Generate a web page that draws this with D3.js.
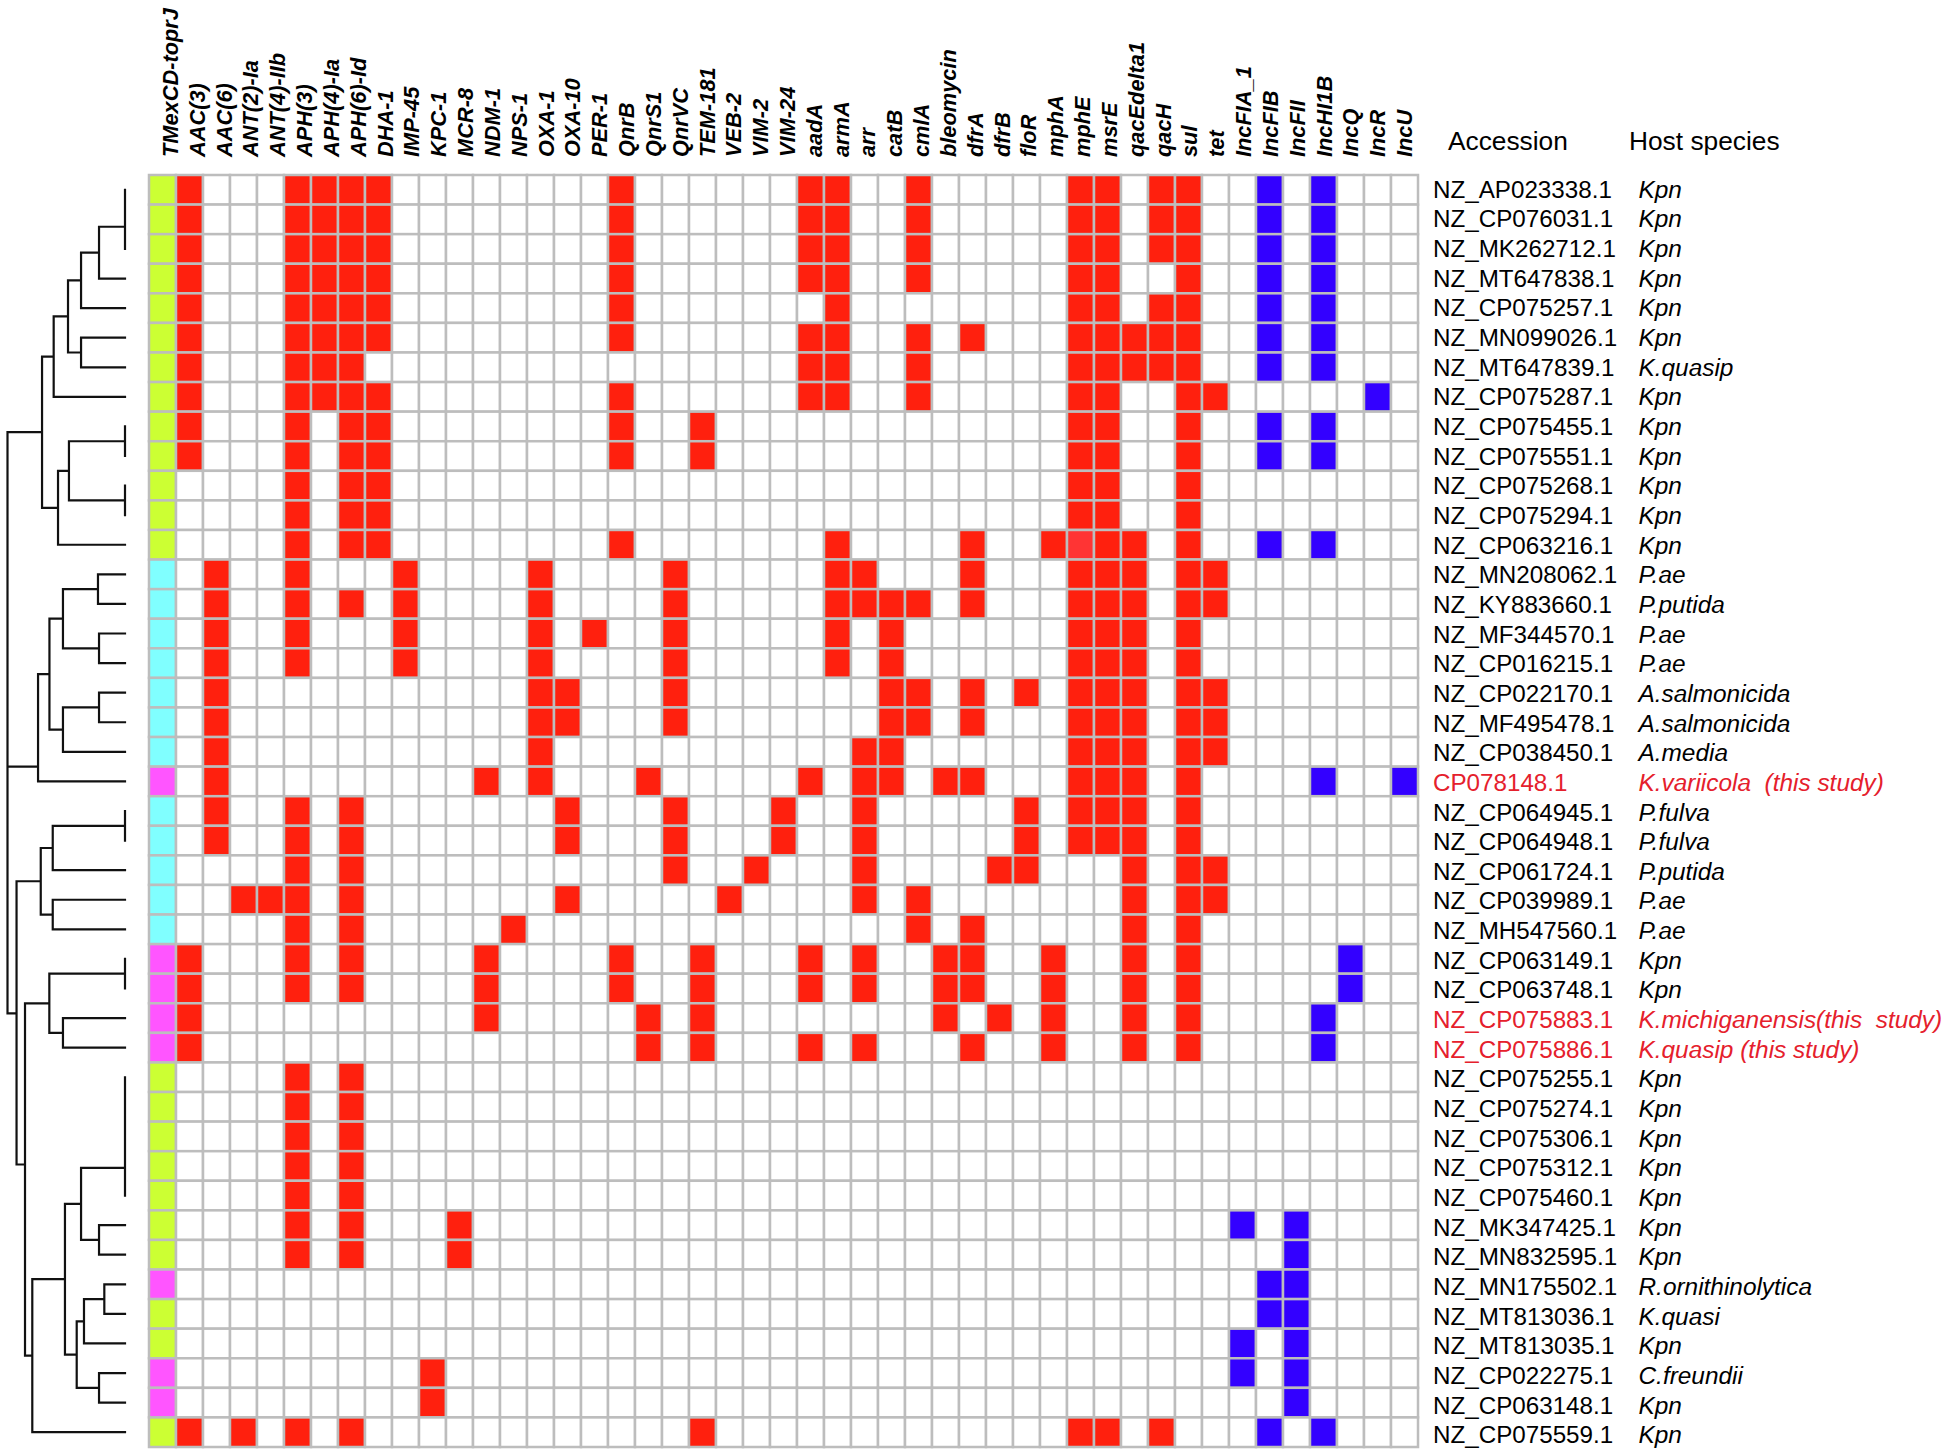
<!DOCTYPE html>
<html>
<head>
<meta charset="utf-8">
<script src="https://cdn.jsdelivr.net/npm/d3@7"></script>
<style>
  body { margin: 0; background: #fff; }
  text { font-family: "Liberation Sans", Arial, sans-serif; white-space: pre; }
</style>
</head>
<body>
<svg id="chart" width="1949" height="1454"></svg>
<script>
const genes = ["TMexCD-toprJ", "AAC(3)", "AAC(6)", "ANT(2)-Ia", "ANT(4)-IIb", "APH(3)", "APH(4)-Ia", "APH(6)-Id", "DHA-1", "IMP-45",
  "KPC-1", "MCR-8", "NDM-1", "NPS-1", "OXA-1", "OXA-10", "PER-1", "QnrB", "QnrS1", "QnrVC",
  "TEM-181", "VEB-2", "VIM-2", "VIM-24", "aadA", "armA", "arr", "catB", "cmlA", "bleomycin",
  "dfrA", "dfrB", "floR", "mphA", "mphE", "msrE", "qacEdelta1", "qacH", "sul", "tet",
  "IncFIA_1", "IncFIB", "IncFII", "IncHI1B", "IncQ", "IncR", "IncU"];

const accessions = ["NZ_AP023338.1", "NZ_CP076031.1", "NZ_MK262712.1", "NZ_MT647838.1", "NZ_CP075257.1", "NZ_MN099026.1", "NZ_MT647839.1",
  "NZ_CP075287.1", "NZ_CP075455.1", "NZ_CP075551.1", "NZ_CP075268.1", "NZ_CP075294.1", "NZ_CP063216.1", "NZ_MN208062.1",
  "NZ_KY883660.1", "NZ_MF344570.1", "NZ_CP016215.1", "NZ_CP022170.1", "NZ_MF495478.1", "NZ_CP038450.1", "CP078148.1",
  "NZ_CP064945.1", "NZ_CP064948.1", "NZ_CP061724.1", "NZ_CP039989.1", "NZ_MH547560.1", "NZ_CP063149.1", "NZ_CP063748.1",
  "NZ_CP075883.1", "NZ_CP075886.1", "NZ_CP075255.1", "NZ_CP075274.1", "NZ_CP075306.1", "NZ_CP075312.1", "NZ_CP075460.1",
  "NZ_MK347425.1", "NZ_MN832595.1", "NZ_MN175502.1", "NZ_MT813036.1", "NZ_MT813035.1", "NZ_CP022275.1", "NZ_CP063148.1", "NZ_CP075559.1"];

const hosts = ["Kpn", "Kpn", "Kpn", "Kpn", "Kpn", "Kpn", "K.quasip",
  "Kpn", "Kpn", "Kpn", "Kpn", "Kpn", "Kpn", "P.ae",
  "P.putida", "P.ae", "P.ae", "A.salmonicida", "A.salmonicida", "A.media", "K.variicola  (this study)",
  "P.fulva", "P.fulva", "P.putida", "P.ae", "P.ae", "Kpn", "Kpn",
  "K.michiganensis(this  study)", "K.quasip (this study)", "Kpn", "Kpn", "Kpn", "Kpn", "Kpn",
  "Kpn", "Kpn", "R.ornithinolytica", "K.quasi", "Kpn", "C.freundii", "Kpn", "Kpn"];

// first column, one letter per row: g = green, c = cyan, m = magenta
const firstColumn = "gggggggggggggcccccccmcccccmmmmgggggggmggmmg";

const thisStudy = ["CP078148.1", "NZ_CP075883.1", "NZ_CP075886.1"];

// gene index (into genes) of every filled cell, one list per row
const present = [
  [1, 5, 6, 7, 8, 17, 24, 25, 28, 34, 35, 37, 38, 41, 43],
  [1, 5, 6, 7, 8, 17, 24, 25, 28, 34, 35, 37, 38, 41, 43],
  [1, 5, 6, 7, 8, 17, 24, 25, 28, 34, 35, 37, 38, 41, 43],
  [1, 5, 6, 7, 8, 17, 24, 25, 28, 34, 35, 38, 41, 43],
  [1, 5, 6, 7, 8, 17, 25, 34, 35, 37, 38, 41, 43],
  [1, 5, 6, 7, 8, 17, 24, 25, 28, 30, 34, 35, 36, 37, 38, 41, 43],
  [1, 5, 6, 7, 24, 25, 28, 34, 35, 36, 37, 38, 41, 43],
  [1, 5, 6, 7, 8, 17, 24, 25, 28, 34, 35, 38, 39, 45],
  [1, 5, 7, 8, 17, 20, 34, 35, 38, 41, 43],
  [1, 5, 7, 8, 17, 20, 34, 35, 38, 41, 43],
  [5, 7, 8, 34, 35, 38],
  [5, 7, 8, 34, 35, 38],
  [5, 7, 8, 17, 25, 30, 33, 34, 35, 36, 38, 41, 43],
  [2, 5, 9, 14, 19, 25, 26, 30, 34, 35, 36, 38, 39],
  [2, 5, 7, 9, 14, 19, 25, 26, 27, 28, 30, 34, 35, 36, 38, 39],
  [2, 5, 9, 14, 16, 19, 25, 27, 34, 35, 36, 38],
  [2, 5, 9, 14, 19, 25, 27, 34, 35, 36, 38],
  [2, 14, 15, 19, 27, 28, 30, 32, 34, 35, 36, 38, 39],
  [2, 14, 15, 19, 27, 28, 30, 34, 35, 36, 38, 39],
  [2, 14, 26, 27, 34, 35, 36, 38, 39],
  [2, 12, 14, 18, 24, 26, 27, 29, 30, 34, 35, 36, 38, 43, 46],
  [2, 5, 7, 15, 19, 23, 26, 32, 34, 35, 36, 38],
  [2, 5, 7, 15, 19, 23, 26, 32, 34, 35, 36, 38],
  [5, 7, 19, 22, 26, 31, 32, 36, 38, 39],
  [3, 4, 5, 7, 15, 21, 26, 28, 36, 38, 39],
  [5, 7, 13, 28, 30, 36, 38],
  [1, 5, 7, 12, 17, 20, 24, 26, 29, 30, 33, 36, 38, 44],
  [1, 5, 7, 12, 17, 20, 24, 26, 29, 30, 33, 36, 38, 44],
  [1, 12, 18, 20, 29, 31, 33, 36, 38, 43],
  [1, 18, 20, 24, 26, 30, 33, 36, 38, 43],
  [5, 7],
  [5, 7],
  [5, 7],
  [5, 7],
  [5, 7],
  [5, 7, 11, 40, 42],
  [5, 7, 11, 42],
  [41, 42],
  [41, 42],
  [40, 42],
  [10, 40, 42],
  [10, 42],
  [1, 3, 5, 7, 20, 34, 35, 37, 41, 43]
];

// dendrogram: n(height, ...children), a plain number is a row index, tips sit at height 100
// "at" is the row position where a branch joins its parent, when it is not halfway between its children
const n = (h, ...kids) => ({ h, kids });
const tree = n(0,
  n(29.4,
    n(39.3,
      n(51.5,
        n(62.6, n(77.9, n(100, n(100, 0, 1), 2), 3), 4),
        n(62.6, 5, 6)),
      7),
    n(43, n(52.3, n(100, 8, 9), n(100, 10, 11)), 12)),
  Object.assign(n(26,
    n(35.7,
      n(47.2, n(77, 13, 14), n(77.9, 15, 16)),
      n(47.2, n(77.9, 17, 18), 19)),
    20), { at: 20 }),
  Object.assign(n(7.7,
    n(28.3,
      n(38.5, n(100, 21, 22), 23),
      n(38.5, 24, 25)),
    Object.assign(n(14.9,
      n(35.6, n(100, 26, 27), n(47.2, 28, 29)),
      n(21.1,
        n(48.9,
          n(62.6, n(100, n(100, n(100, n(100, 30, 31), 32), 33), 34), n(77.9, 35, 36)),
          n(58.9, n(65.1, n(82.4, 37, 38), 39), n(77.9, 40, 41))),
        42)), { at: 33.45 })), { at: 28.34 })
);

const colors = { g: "#ccff33", c: "#80ffff", m: "#ff55ff", red: "#ff200e", pale: "#ff3434", blue: "#3300ff", line: "#bdbdbd", study: "#e5202c" };

const svg = d3.select("#chart");

const x = d3.scaleBand().domain(genes).range([149, 1418]);
const y = d3.scaleBand().domain(accessions).range([175, 1447]);
const labelX = d3.scalePoint().domain(genes).range([178, 1412]);
const labelY = d3.scaleBand().domain(accessions).range([175, 1450]);
const rowPos = d3.scaleLinear().domain([0, accessions.length]).range([175, 1447]);
const treeX = d3.scaleLinear().domain([0, 100]).range([7.5, 125]);

// heat map
const cellColor = (row, col) => {
  if (col === 0) return colors[firstColumn[row]];
  if (!present[row].includes(col)) return "#fff";
  if (row === 12 && col === 34) return colors.pale; // this one cell is lighter in the figure
  return genes[col].startsWith("Inc") ? colors.blue : colors.red;
};

svg.append("g").selectAll("g")
  .data(accessions)
  .join("g")
  .selectAll("rect")
  .data((acc, row) => genes.map((g, col) => ({ acc, g, row, col })))
  .join("rect")
  .attr("x", d => x(d.g))
  .attr("y", d => y(d.acc))
  .attr("width", x.bandwidth())
  .attr("height", y.bandwidth())
  .attr("fill", d => cellColor(d.row, d.col))
  .attr("stroke", colors.line)
  .attr("stroke-width", 2.5);

// gene names on top
svg.append("g").selectAll("text")
  .data(genes)
  .join("text")
  .attr("transform", d => `translate(${labelX(d)},157) rotate(-90)`)
  .attr("font-size", 21.8)
  .attr("font-style", "italic")
  .attr("font-weight", "bold")
  .text(d => d);

// column headers
svg.append("text").attr("x", 1448).attr("y", 150).attr("font-size", 26.3).text("Accession");
svg.append("text").attr("x", 1629).attr("y", 150).attr("font-size", 26.3).text("Host species");

// row labels
const rowColor = d => thisStudy.includes(d) ? colors.study : "#000";

svg.append("g").selectAll("text")
  .data(accessions)
  .join("text")
  .attr("x", 1433)
  .attr("y", d => labelY(d) + labelY.bandwidth() / 2 + 8)
  .attr("font-size", 24.2)
  .attr("fill", rowColor)
  .text(d => d);

svg.append("g").selectAll("text")
  .data(accessions)
  .join("text")
  .attr("x", 1638.5)
  .attr("y", d => labelY(d) + labelY.bandwidth() / 2 + 8)
  .attr("font-size", 24.4)
  .attr("font-style", "italic")
  .attr("fill", rowColor)
  .text((d, i) => hosts[i]);

// dendrogram
const root = d3.hierarchy(tree, d => d.kids ? d.kids : null);
root.eachAfter(node => {
  if (!node.children) node.rowY = rowPos(node.data + 0.5);
  else if (node.data.at !== undefined) node.rowY = rowPos(node.data.at);
  else node.rowY = d3.mean([node.children[0].rowY, node.children[node.children.length - 1].rowY]);
});

const tipHeight = d => d.children ? d.data.h : 100;
const branches = d3.path();
root.descendants().filter(d => d.children).forEach(node => {
  const px = treeX(node.data.h);
  const ys = node.children.map(c => c.rowY);
  branches.moveTo(px, d3.min(ys));
  branches.lineTo(px, d3.max(ys));
  node.children.forEach(c => {
    branches.moveTo(px, c.rowY);
    branches.lineTo(treeX(tipHeight(c)), c.rowY);
  });
});

svg.append("path")
  .attr("d", branches.toString())
  .attr("fill", "none")
  .attr("stroke", "#111")
  .attr("stroke-width", 2.2)
  .attr("stroke-linecap", "square");
</script>
</body>
</html>
